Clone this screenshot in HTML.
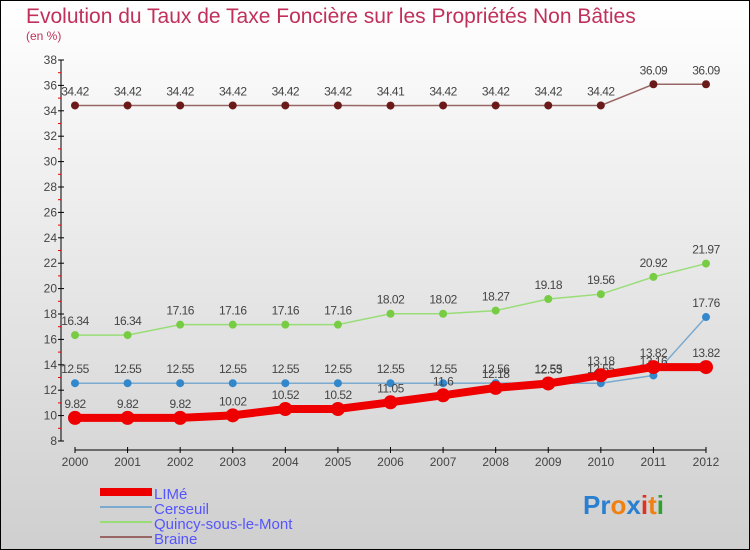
<!DOCTYPE html>
<html><head><meta charset="utf-8"><style>
body{margin:0;}
#c{width:750px;height:550px;position:relative;overflow:hidden;}
svg text{font-family:"Liberation Sans",sans-serif;}
</style></head><body>
<div id="c">
<svg id="s" width="750" height="550" xmlns="http://www.w3.org/2000/svg">
<defs><linearGradient id="bg" x1="0" y1="0" x2="0" y2="1"><stop offset="0" stop-color="#ffffff"/><stop offset="1" stop-color="#cfcfcf"/></linearGradient></defs>
<rect x="0.5" y="0.5" width="749" height="549" fill="url(#bg)" stroke="#000"/>
<text x="26" y="23" font-size="21" fill="#c0305a">Evolution du Taux de Taxe Foncière sur les Propriétés Non Bâties</text>
<text x="26" y="40" font-size="12" fill="#c0305a">(en %)</text>
<g id="axes"></g><g id="series"></g>
<g>
<rect x="100" y="488" width="52" height="8" fill="#ee0000"/>
<text x="154" y="499" font-size="15" fill="#5555ff">LIMé</text>
<rect x="100" y="506" width="52" height="2" fill="#7aaad0"/>
<text x="154" y="514" font-size="15" fill="#5555ff">Cerseuil</text>
<rect x="100" y="521" width="52" height="2" fill="#99dd77"/>
<text x="154" y="529" font-size="15" fill="#5555ff">Quincy-sous-le-Mont</text>
<rect x="100" y="536" width="52" height="2" fill="#996666"/>
<text x="154" y="544" font-size="15" fill="#5555ff">Braine</text>
</g>
<text x="583" y="514" font-size="26" font-weight="bold"><tspan fill="#2a7fd0">Pr</tspan><tspan fill="#f08010">o</tspan><tspan fill="#2a7fd0">x</tspan><tspan fill="#e03020">i</tspan><tspan fill="#f08010">t</tspan><tspan fill="#30a030">i</tspan></text>
</svg></div>
<script>
const years=["2000","2001","2002","2003","2004","2005","2006","2007","2008","2009","2010","2011","2012"];
const yTicks=[8,10,12,14,16,18,20,22,24,26,28,30,32,34,36,38];
const lime=[9.82,9.82,9.82,10.02,10.52,10.52,11.05,11.6,12.18,12.53,13.18,13.82,13.82];
const cerseuil=[12.55,12.55,12.55,12.55,12.55,12.55,12.55,12.55,12.56,12.55,12.55,13.16,17.76];
const quincy=[16.34,16.34,17.16,17.16,17.16,17.16,18.02,18.02,18.27,19.18,19.56,20.92,21.97];
const braine=[34.42,34.42,34.42,34.42,34.42,34.42,34.41,34.42,34.42,34.42,34.42,36.09,36.09];
const NS="http://www.w3.org/2000/svg";
function xs(i){return 75+i*(706-75)/(years.length-1);}
function ys(v){return 441-(v-8)*(441-60)/30;}
function mk(t,a,p){const e=document.createElementNS(NS,t);for(const k in a)e.setAttribute(k,a[k]);p.appendChild(e);return e;}
const ax=document.getElementById('axes');
let l=mk('line',{x1:61,y1:60,x2:61,y2:441,stroke:'#000'},ax);


yTicks.forEach((v,i)=>{
  const y=ys(v);
  const t=mk('line',{x1:58,y1:y,x2:64,y2:y,stroke:'#000'},ax);
  
  
  const tx=mk('text',{x:57,y:y+4,'font-size':12,fill:'#444','text-anchor':'end'},ax);tx.textContent=v;
  
  
  if(i<yTicks.length-1){const m=mk('line',{x1:58,y1:ys(v+1),x2:61,y2:ys(v+1),stroke:'#e00'},ax);
  
  }
});
l=mk('line',{x1:75,y1:450,x2:706,y2:450,stroke:'#000'},ax);


years.forEach((yr,i)=>{
  const x=xs(i);
  const t=mk('line',{x1:x,y1:447,x2:x,y2:453,stroke:'#000'},ax);
  
  
  const tx=mk('text',{x:x,y:466,'font-size':12,fill:'#444','text-anchor':'middle'},ax);tx.textContent=yr;
  
  
});
const sg=document.getElementById('series');
function draw(data,name,color,dot,w,r){
  const g=mk('g',{},sg);
  
  
  const pl=mk('polyline',{points:data.map((v,i)=>xs(i)+','+ys(v)).join(' '),fill:'none',stroke:color,'stroke-width':w},g);
  
  
  data.forEach((v,i)=>{
    const c=mk('circle',{cx:xs(i),cy:ys(v),r:r,fill:dot},g);
    
    
    const tx=mk('text',{x:xs(i),y:ys(v)-10,'font-size':12,fill:'#444','text-anchor':'middle','letter-spacing':'-0.5'},g);tx.textContent=v.toFixed(2).replace(/0$/,'').replace(/\.0$/,'');
    
    
  });
}
draw(braine,'braine','#996666','#6b1a1a',1.5,4);
draw(quincy,'quincy','#99dd77','#77cc44',1.5,4);
draw(cerseuil,'cerseuil','#7aaad0','#3388cc',1.5,4);
draw(lime,'lime','#ee0000','#ee0000',8,7);
</script>
</body></html>
